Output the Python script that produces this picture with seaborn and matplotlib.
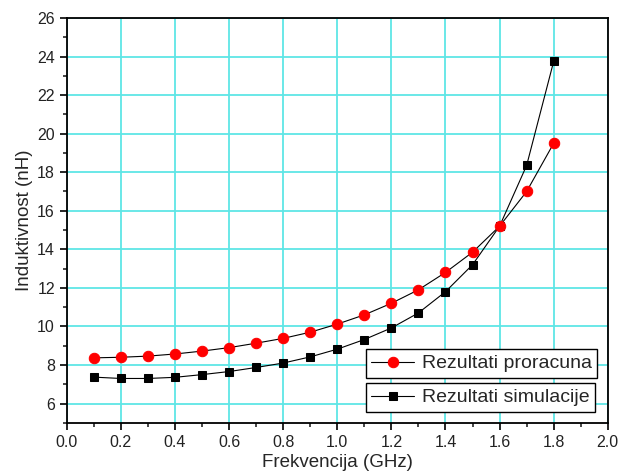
import matplotlib
matplotlib.use("Agg")
import matplotlib.pyplot as plt
import seaborn as sns
from matplotlib.ticker import MultipleLocator

# Data
freq = [0.1, 0.2, 0.3, 0.4, 0.5, 0.6, 0.7, 0.8, 0.9, 1.0,
        1.1, 1.2, 1.3, 1.4, 1.5, 1.6, 1.7, 1.8]
proracun = [8.37, 8.4, 8.46, 8.57, 8.72, 8.9, 9.13, 9.38, 9.7, 10.12,
            10.6, 11.2, 11.9, 12.8, 13.85, 15.2, 17.0, 19.5]
simulacija = [7.37, 7.3, 7.3, 7.36, 7.5, 7.66, 7.87, 8.1, 8.42, 8.82,
              9.32, 9.92, 10.7, 11.8, 13.2, 15.2, 18.35, 23.75]

sns.set_style("ticks")
plt.rcParams["font.family"] = ["Liberation Sans", "DejaVu Sans"]

fig = plt.figure(figsize=(6.24, 4.74), dpi=100)
ax = fig.add_axes([0.107, 0.108, 0.867, 0.854])

grid_color = "#5ee6e6"
ax.grid(True, which="major", color=grid_color, linewidth=1.3)
ax.set_axisbelow(True)

sns.lineplot(x=freq, y=simulacija, ax=ax, color="black", linewidth=0.8,
             marker="s", markersize=6, markerfacecolor="black",
             markeredgecolor="black", label="Rezultati simulacije")
sns.lineplot(x=freq, y=proracun, ax=ax, color="black", linewidth=0.8,
             marker="o", markersize=7.5, markerfacecolor="red",
             markeredgecolor="red", label="Rezultati proracuna")

ax.set_xlim(0, 2.0)
ax.set_ylim(5, 26)
ax.xaxis.set_major_locator(MultipleLocator(0.2))
ax.xaxis.set_minor_locator(MultipleLocator(0.1))
ax.yaxis.set_minor_locator(MultipleLocator(1))
ax.set_yticks([6, 8, 10, 12, 14, 16, 18, 20, 22, 24, 26])
ax.xaxis.set_major_formatter(matplotlib.ticker.FormatStrFormatter("%.1f"))

ax.tick_params(which="major", direction="out", length=5, width=1.2,
               labelsize=11.5, color="black", labelcolor="#222222")
ax.tick_params(which="minor", direction="out", length=3, width=1.2)
ax.tick_params(top=False, right=False)
for s in ax.spines.values():
    s.set_linewidth(1.3)
    s.set_color("black")

ax.set_xlabel("Frekvencija (GHz)", fontsize=13.5, labelpad=3)
ax.set_ylabel("Induktivnost (nH)", fontsize=13.5, labelpad=3)

# Two separate legend boxes, like the original
handles, labels = ax.get_legend_handles_labels()
ax.get_legend().remove()
leg_kw = dict(fontsize=14, frameon=True, fancybox=False, edgecolor="black",
              framealpha=1, borderpad=0.28, handlelength=2.2,
              handletextpad=0.4, borderaxespad=0)
leg1 = ax.legend([handles[1]], [labels[1]], loc="lower left",
                 bbox_to_anchor=(0.553, 0.111), **leg_kw)
leg1.get_frame().set_linewidth(1.0)
ax.add_artist(leg1)
leg2 = ax.legend([handles[0]], [labels[0]], loc="lower left",
                 bbox_to_anchor=(0.553, 0.027), **leg_kw)
leg2.get_frame().set_linewidth(1.0)

fig.savefig("out.png", dpi=100)
